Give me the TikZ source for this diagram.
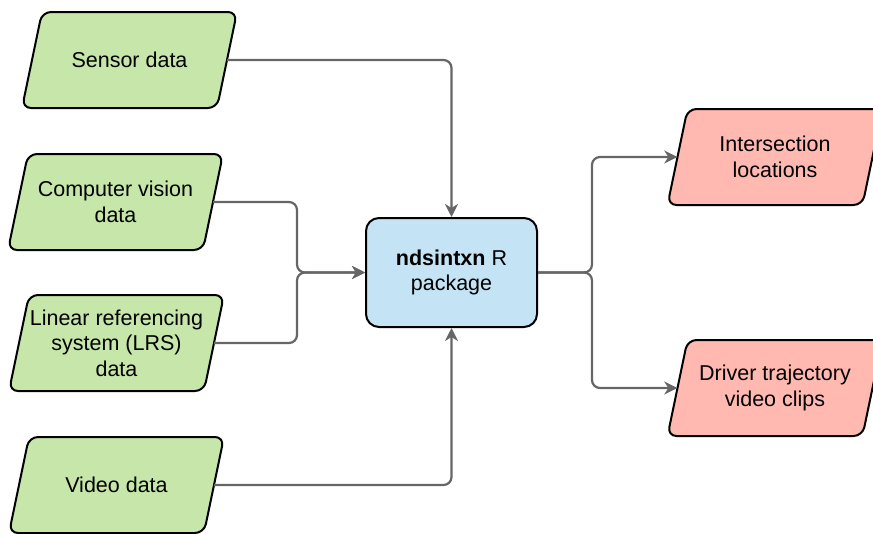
\documentclass[tikz,border=0pt]{standalone}
\usepackage{fontspec}
\setmainfont{Liberation Sans}
\usetikzlibrary{arrows.meta}
\definecolor{ingreen}{RGB}{198,230,170}
\definecolor{pkgblue}{RGB}{196,227,245}
\definecolor{outred}{RGB}{255,185,176}
\definecolor{conn}{RGB}{102,102,102}
% parallelogram: name, cx, cy, fill colour, text
\newcommand\paranode[5]{%
  \filldraw[fill=#4, shapeline]
    ({#2-87.5},{#3-48}) -- ({#2+107.5},{#3-48}) -- ({#2+87.5},{#3+48})
    -- ({#2-107.5},{#3+48}) -- cycle;
  \node[ptext] (#1) at (#2,#3) {#5};}
\begin{document}
\begin{tikzpicture}[x=1pt,y=-1pt,
  txt/.style={font=\fontsize{21.5}{25.5}\selectfont, align=center, text=black},
  shapeline/.style={draw=black, line width=2pt, rounded corners=9pt},
  ptext/.style={txt, rectangle, minimum width=195pt, minimum height=96pt, inner sep=0pt},
  pkg/.style={txt, rectangle, shapeline, rounded corners=13pt,
    fill=pkgblue, minimum width=171pt, minimum height=109pt, inner sep=0pt},
  link/.style={draw=conn, line width=2.2pt, rounded corners=8pt,
    -{Stealth[length=13pt,width=13pt,inset=4pt]}}
]
\useasboundingbox (0,0) rectangle (873,533);

\paranode{sen}{129.5}{60}{ingreen}{Sensor data}
\paranode{cv}{115.5}{202}{ingreen}{Computer vision\\data}
\paranode{lrs}{116.5}{343}{ingreen}{Linear referencing\\system (LRS)\\data}
\paranode{vid}{116.5}{485}{ingreen}{Video data}

\node[pkg] (box) at (451.5,272.5) {\textbf{ndsintxn} R\\package};

\paranode{int}{775}{157}{outred}{Intersection\\locations}
\paranode{drv}{775}{388}{outred}{Driver trajectory\\video clips}

\coordinate (jl) at (297,272.5);
\coordinate (jr) at (592,272.5);

\draw[link] (sen.east) -| (box.north);
\draw[link] (vid.east) -| (box.south);
\draw[link] (cv.east) -| (jl) -- (box.west);
\draw[link] (lrs.east) -| (jl) -- (box.west);
\draw[link] (box.east) -- (jr) |- (int.west);
\draw[link] (box.east) -- (jr) |- (drv.west);
\end{tikzpicture}
\end{document}
